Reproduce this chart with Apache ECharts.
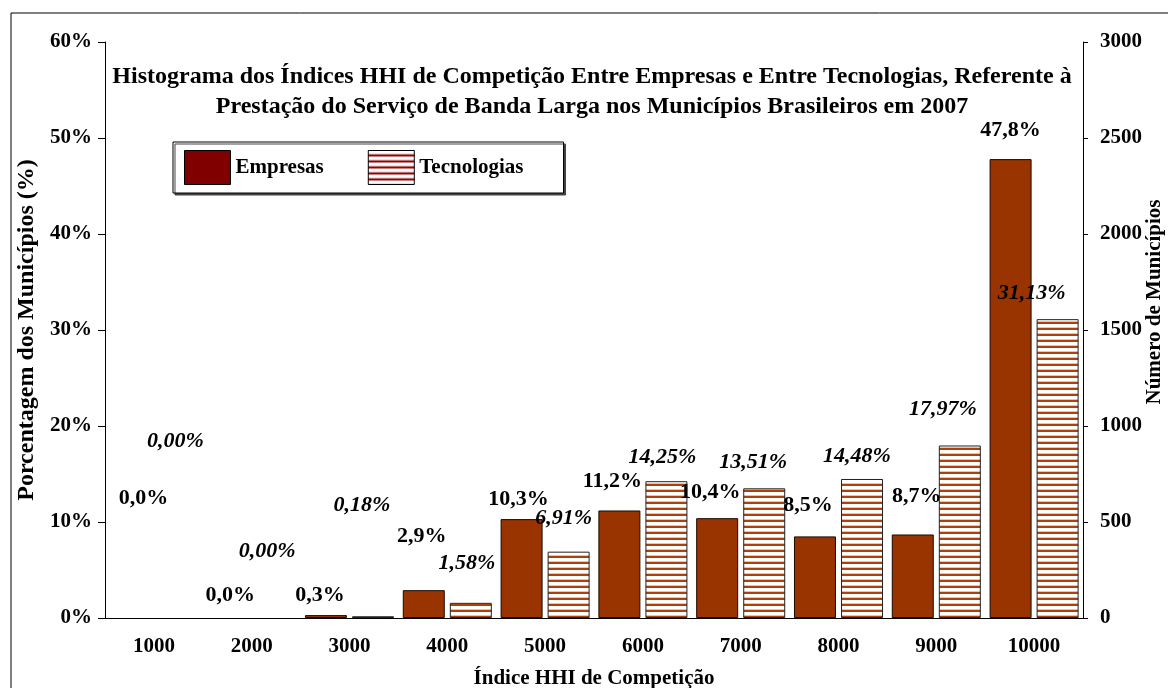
<!DOCTYPE html>
<html lang="pt">
<head>
    <meta charset="UTF-8">
    <title>Histograma HHI</title>
    <script src="https://cdn.jsdelivr.net/npm/echarts@6/dist/echarts.min.js"></script>
    <style>
        html, body { margin: 0; padding: 0; background: #fff; }
        #main { width: 1168px; height: 688px; }
    </style>
</head>
<body>
<div id="main"></div>
<script>
    // dados
    var categorias = ['1000', '2000', '3000', '4000', '5000', '6000', '7000', '8000', '9000', '10000'];
    var empresas = [0.0, 0.0, 0.3, 2.9, 10.3, 11.2, 10.4, 8.5, 8.7, 47.8];
    var tecnologias = [0.00, 0.00, 0.18, 1.58, 6.91, 14.25, 13.51, 14.48, 17.97, 31.13];
    var ticksPct = [0, 10, 20, 30, 40, 50, 60];
    var ticksNum = [0, 500, 1000, 1500, 2000, 2500, 3000];

    // deslocamento manual dos rótulos (como no Excel)
    var offEmp = [[13, -104], [2, -7], [-6, -4], [-2, -38], [-3, -4], [-7, -13], [-7, -10], [-7, -15], [4, -22], [0, -13]];
    var offTec = [[-2, -161], [-8, -51], [-11, -95], [-4, -24], [-5, -17], [-4, -8], [-11, -10], [-5, -7], [-17, -20], [-26, -10]];

    var fonte = '"Liberation Serif", "Times New Roman", serif';

    // hachura horizontal
    var cv = document.createElement('canvas');
    cv.width = 6; cv.height = 6;
    var cx = cv.getContext('2d');
    cx.fillStyle = '#ffffff';
    cx.fillRect(0, 0, 6, 6);
    cx.fillStyle = '#d9c8c0';
    cx.fillRect(0, 3, 6, 1);
    cx.fillStyle = '#b0400a';
    cx.fillRect(0, 4, 6, 2);
    var hachura = { image: cv, repeat: 'repeat' };

    var cvL = document.createElement('canvas');
    cvL.width = 6; cvL.height = 6;
    var cl = cvL.getContext('2d');
    cl.fillStyle = '#ffffff';
    cl.fillRect(0, 0, 6, 6);
    cl.fillStyle = '#e0c0c0';
    cl.fillRect(0, 3, 6, 1);
    cl.fillStyle = '#990000';
    cl.fillRect(0, 4, 6, 2);
    var hachuraLeg = { image: cvL, repeat: 'repeat' };

    var dadosEmp = [], dadosTec = [];
    for (var i = 0; i < categorias.length; i++) {
        // barras de valor zero não aparecem no original
        var bordaE = empresas[i] === 0 ? 0 : 1;
        var bordaT = tecnologias[i] === 0 ? 0 : 1;
        dadosEmp.push({ value: empresas[i], label: { offset: offEmp[i] }, itemStyle: { borderWidth: bordaE } });
        dadosTec.push({ value: tecnologias[i], label: { offset: offTec[i] }, itemStyle: { borderWidth: bordaT } });
    }

    var chart = echarts.init(document.getElementById('main'));
    chart.setOption({
        animation: false,
        textStyle: { fontFamily: fonte },
        title: {
            text: 'Histograma dos Índices HHI de Competição Entre Empresas e Entre Tecnologias, Referente à\nPrestação do Serviço de Banda Larga nos Municípios Brasileiros em 2007',
            left: 587,
            top: 57,
            textAlign: 'center',
            textStyle: { fontFamily: fonte, fontSize: 24, fontWeight: 'bold', lineHeight: 30, color: '#000' }
        },
        graphic: [{
            type: 'rect',
            shape: { x: 11, y: 13, width: 1200, height: 720 },
            style: { fill: 'none', stroke: '#000', lineWidth: 1 },
            silent: true
        }, {
            // título do eixo secundário
            type: 'text',
            x: 1155,
            y: 302,
            rotation: Math.PI / 2,
            style: {
                text: 'Número de Municípios',
                font: 'bold 21px ' + fonte,
                fill: '#000',
                align: 'center',
                verticalAlign: 'middle'
            },
            silent: true
        }],
        legend: {
            left: 173,
            top: 142,
            padding: [8, 40, 8, 11],
            itemWidth: 46,
            itemHeight: 34,
            itemGap: 44,
            borderColor: '#000',
            borderWidth: 1,
            backgroundColor: '#fff',
            shadowColor: '#444',
            shadowOffsetX: 2,
            shadowOffsetY: 2,
            shadowBlur: 0,
            textStyle: { fontFamily: fonte, fontSize: 21, fontWeight: 'bold', color: '#000' },
            data: [
                { name: 'Empresas', icon: 'rect', itemStyle: { color: '#800000', borderColor: '#000', borderWidth: 1 } },
                { name: 'Tecnologias', icon: 'rect', itemStyle: { color: hachuraLeg, borderColor: '#000', borderWidth: 1 } }
            ]
        },
        grid: { left: 105, right: 85, top: 42, bottom: 70, containLabel: false, outerBoundsMode: 'none' },
        xAxis: {
            type: 'category',
            data: categorias,
            name: 'Índice HHI de Competição',
            nameLocation: 'middle',
            nameGap: 50,
            nameTextStyle: { fontFamily: fonte, fontSize: 21, fontWeight: 'bold', color: '#000' },
            axisLine: { lineStyle: { color: '#000', width: 1 } },
            axisTick: { length: 7, lineStyle: { color: '#000' } },
            axisLabel: { margin: 18, fontFamily: fonte, fontSize: 21, fontWeight: 'bold', color: '#000' }
        },
        yAxis: [{
            type: 'value',
            min: 0, max: 60, interval: 10,
            name: 'Porcentagem dos Municípios (%)',
            nameLocation: 'middle',
            nameRotate: 90,
            nameGap: 58,
            nameTextStyle: { fontFamily: fonte, fontSize: 24, fontWeight: 'bold', color: '#000' },
            axisLine: { show: true, lineStyle: { color: '#000', width: 1 } },
            axisTick: { show: true, length: 7, lineStyle: { color: '#000' } },
            splitLine: { show: false },
            axisLabel: {
                margin: 13, fontFamily: fonte, fontSize: 21, fontWeight: 'bold', color: '#000',
                formatter: function (v) { return ticksPct.indexOf(v) >= 0 ? v + '%' : ''; }
            }
        }, {
            type: 'value',
            min: 0, max: 3000, interval: 500,
            position: 'right',
            axisLine: { show: true, lineStyle: { color: '#000', width: 1 } },
            axisTick: { show: true, length: 5, lineStyle: { color: '#000' } },
            splitLine: { show: false },
            axisLabel: {
                margin: 17, fontFamily: fonte, fontSize: 21, fontWeight: 'bold', color: '#000',
                formatter: function (v) { return ticksNum.indexOf(v) >= 0 ? String(v) : ''; }
            }
        }],
        series: [{
            name: 'Empresas',
            type: 'bar',
            yAxisIndex: 0,
            barWidth: 42,
            barGap: '12%',
            data: dadosEmp,
            itemStyle: { color: '#993300', borderColor: '#1a0a00', borderWidth: 1 },
            label: {
                show: true, position: 'top', distance: 5,
                fontFamily: fonte, fontSize: 22, fontWeight: 'bold', color: '#000',
                formatter: function (p) { return p.value.toFixed(1).replace('.', ',') + '%'; }
            }
        }, {
            name: 'Tecnologias',
            type: 'bar',
            yAxisIndex: 0,
            barWidth: 42,
            data: dadosTec,
            itemStyle: { color: hachura, borderColor: '#222', borderWidth: 1 },
            label: {
                show: true, position: 'top', distance: 5,
                fontFamily: fonte, fontSize: 22, fontWeight: 'bold', fontStyle: 'italic', color: '#000',
                formatter: function (p) { return p.value.toFixed(2).replace('.', ',') + '%'; }
            }
        }]
    });
</script>
</body>
</html>
